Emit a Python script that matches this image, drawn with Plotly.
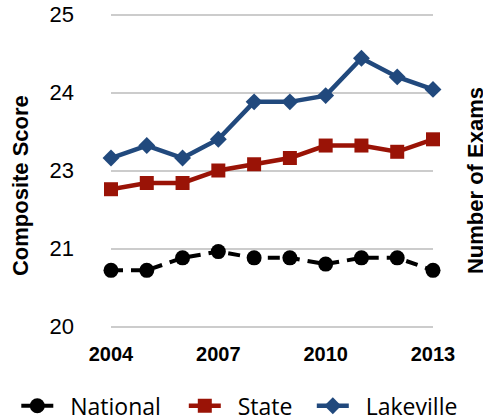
import plotly.graph_objects as go

years = [2004, 2005, 2006, 2007, 2008, 2009, 2010, 2011, 2012, 2013]
national = [20.9, 20.9, 21.1, 21.2, 21.1, 21.1, 21.0, 21.1, 21.1, 20.9]
state = [22.2, 22.3, 22.3, 22.5, 22.6, 22.7, 22.9, 22.9, 22.8, 23.0]
lakeville = [22.7, 22.9, 22.7, 23.0, 23.6, 23.6, 23.7, 24.3, 24.0, 23.8]

y_tickvals = [20, 21.25, 22.5, 23.75, 25]
y_ticktext = ["20", "21", "23", "24", "25"]
x_tickvals = [2004, 2007, 2010, 2013]

NB = "\u00a0"

fig = go.Figure()
fig.add_trace(go.Scatter(
    x=years, y=national, name=NB * 2 + "National", mode="lines+markers",
    line=dict(color="#000000", width=4, dash="12px,8px"),
    marker=dict(symbol="circle", size=15, color="#000000"),
    cliponaxis=False, legend="legend",
))
fig.add_trace(go.Scatter(
    x=years, y=state, name=NB * 2 + "State", mode="lines+markers",
    line=dict(color="#9A1306", width=4.5),
    marker=dict(symbol="square", size=14, color="#9A1306"),
    cliponaxis=False, legend="legend2",
))
fig.add_trace(go.Scatter(
    x=years, y=lakeville, name=NB * 2 + "Lakeville", mode="lines+markers",
    line=dict(color="#21497D", width=4.5),
    marker=dict(symbol="diamond", size=13, color="#21497D"),
    cliponaxis=False, legend="legend3",
))

W, H = 483, 418
# y range padded slightly so that the 20 and 25 gridlines are drawn
y_lo, y_hi = 19.96, 25.04
ppu = 62.4  # pixels per score unit
y20_px, x2004_px, x2013_px = 326.7, 110.7, 432.7
B = H - (y20_px + (20 - y_lo) * ppu)
T = (y20_px - (25 - 20) * ppu) - (y_hi - 25) * ppu
L = x2004_px
R = W - x2013_px
pw = W - L - R
ph = H - T - B

def px_x(p):
    return (p - L) / pw

def px_y(p):
    return (H - B - p) / ph

def legend_at(xpx):
    return dict(
        orientation="h", x=px_x(xpx), xanchor="left", y=px_y(406), yanchor="middle",
        font=dict(family="Open Sans", size=23, color="#000000"),
        bgcolor="rgba(0,0,0,0)", itemclick=False, itemdoubleclick=False, itemwidth=32,
    )

fig.update_layout(
    width=W, height=H,
    margin=dict(l=L, r=R, t=T, b=B, pad=0, autoexpand=False),
    plot_bgcolor="white", paper_bgcolor="white",
    showlegend=True,
    legend=legend_at(16),
    legend2=legend_at(183.5),
    legend3=legend_at(311.5),
    xaxis=dict(
        range=[2004, 2013], tickvals=x_tickvals, showgrid=False, zeroline=False,
        showline=False, ticks="", ticklabelstandoff=11,
        tickfont=dict(family="Liberation Sans", size=20, color="#000000", weight="bold"),
    ),
    yaxis=dict(
        range=[y_lo, y_hi], tickvals=y_tickvals, ticktext=y_ticktext,
        showgrid=True, gridcolor="#CCCCCC", gridwidth=2, zeroline=False,
        showline=False, ticks="", ticklabelstandoff=36,
        tickfont=dict(family="Liberation Sans", size=22, color="#000000"),
    ),
    annotations=[
        dict(text="<b>Composite Score</b>", textangle=-90, xref="paper", yref="paper",
             x=px_x(21), y=px_y(186), showarrow=False, xanchor="center", yanchor="middle",
             font=dict(family="Liberation Sans", size=22, color="#000000")),
        dict(text="<b>Number of Exams</b>", textangle=-90, xref="paper", yref="paper",
             x=px_x(476), y=px_y(181), showarrow=False, xanchor="center", yanchor="middle",
             font=dict(family="Liberation Sans", size=22, color="#000000")),
    ],
)

fig.write_html("out.html", config={"displayModeBar": False},
               post_script="document.body.style.margin='0px';")
